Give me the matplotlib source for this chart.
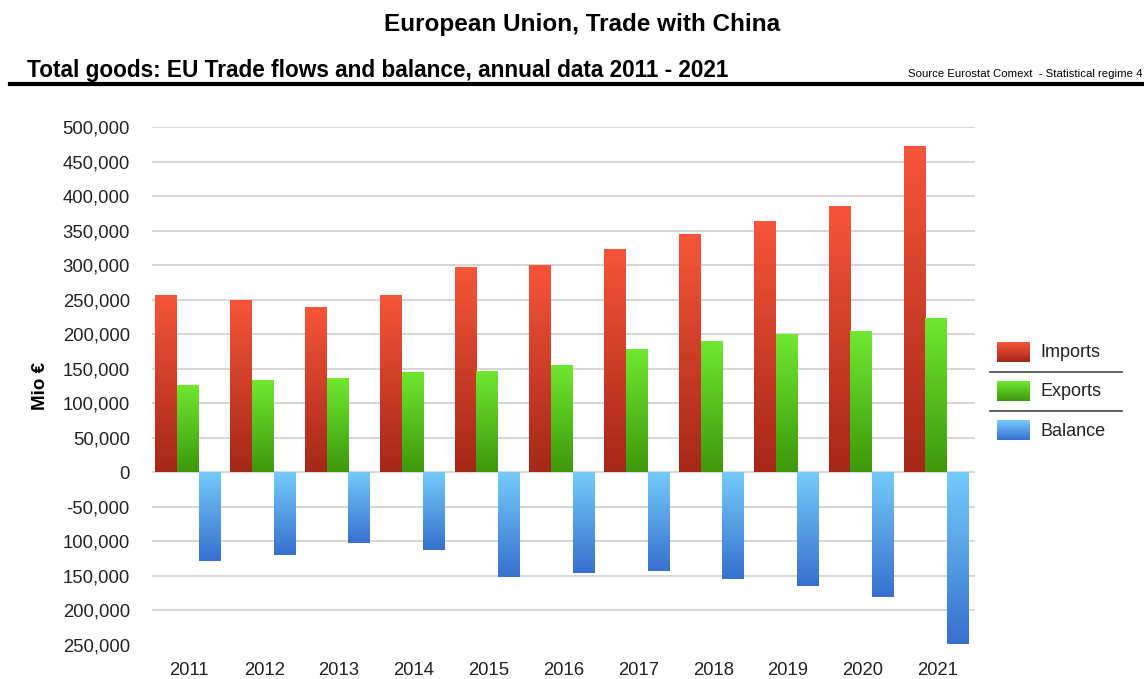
import numpy as np
import matplotlib
matplotlib.use('Agg')
import matplotlib.pyplot as plt
import matplotlib.patches as patches
from matplotlib.colors import LinearSegmentedColormap
from matplotlib.ticker import FuncFormatter

plt.rcParams['font.family'] = ['Liberation Sans', 'DejaVu Sans']

years = ['2011', '2012', '2013', '2014', '2015', '2016', '2017', '2018', '2019', '2020', '2021']
imports = [257000, 250000, 240000, 257000, 298000, 300000, 324000, 345000, 364000, 386000, 473000]
exports = [127000, 133000, 136000, 145000, 146000, 155000, 178000, 190000, 200000, 204000, 223000]
balance = [-129000, -119000, -103000, -112000, -151000, -146000, -143000, -155000, -165000, -181000, -248000]

series = ['Imports', 'Exports', 'Balance']
# light end / dark end of each bar gradient
grad = {'Imports': ('#f6553a', '#a52717'),
        'Exports': ('#6fe830', '#3e980c'),
        'Balance': ('#74cbf9', '#3870cf')}

yticks = np.arange(-250000, 500001, 50000)
W, H = 1144, 679

fig = plt.figure(figsize=(W / 100, H / 100), dpi=100)
ax = fig.add_axes([152 / W, 1 - 645 / H, 823 / W, (645 - 127) / H])

x = np.arange(len(years))
bw = 0.29
for k, (name, vals) in enumerate(zip(series, [imports, exports, balance])):
    bars = ax.bar(x + (k - 1) * bw - 0.02, vals, bw, color=grad[name][1], linewidth=0, zorder=2)
    cmap = LinearSegmentedColormap.from_list(name, [grad[name][1], grad[name][0]])
    for b in bars:
        x0, y0 = b.get_x(), b.get_y()
        x1, y1 = x0 + b.get_width(), y0 + b.get_height()
        g = np.linspace(0, 1, 64).reshape(-1, 1)
        im = ax.imshow(g, cmap=cmap, aspect='auto', origin='lower',
                       extent=(x0, x1, min(y0, y1), max(y0, y1)), zorder=3)
        im.set_clip_path(b)

ax.set_xlim(-0.5, len(years) - 0.5)
ax.set_ylim(-250000, 500000)

# grid lines (none at the bottom value)
ax.hlines(yticks[1:], -0.5, len(years) - 0.5, colors='#cfcfcf', lw=1.2, zorder=1)

ax.set_yticks(yticks)
ax.yaxis.set_major_formatter(FuncFormatter(
    lambda v, p: '-50,000' if v == -50000 else '{:,.0f}'.format(abs(v))))
ax.set_xticks(x)
ax.set_xticklabels(years)
ax.tick_params(length=0, labelsize=13.3, colors='#222222')
ax.tick_params(axis='y', pad=16)
ax.tick_params(axis='x', pad=12)
for s in ax.spines.values():
    s.set_visible(False)
ax.set_ylabel('Mio €', fontsize=13.5, fontweight='bold', labelpad=10)

# titles
fig.text(582 / W, 1 - 25 / H, 'European Union, Trade with China', ha='center', va='center',
         fontsize=17.5, fontweight='bold')
fig.text(27 / W, 1 - 70 / H, 'Total goods: EU Trade flows and balance, annual data 2011 - 2021',
         ha='left', va='center', fontsize=16.3, fontweight='bold')
fig.text(1142 / W, 1 - 74 / H, 'Source Eurostat Comext  - Statistical regime 4',
         ha='right', va='center', fontsize=8.2)
fig.add_artist(plt.Line2D([10 / W, 1], [1 - 84 / H, 1 - 84 / H], color='black', lw=3))

# legend
lax = fig.add_axes([985 / W, 1 - 450 / H, 145 / W, 120 / H])
lax.axis('off')
for k, name in enumerate(series):
    top = 342 + k * 39
    cmap = LinearSegmentedColormap.from_list(name, [grad[name][1], grad[name][0]])
    r = patches.Rectangle((997, top), 33, 20, lw=0, facecolor=grad[name][1], zorder=1)
    lax.add_patch(r)
    im = lax.imshow(np.linspace(0, 1, 32).reshape(-1, 1), cmap=cmap, aspect='auto',
                    origin='lower', extent=(997, 1030, top + 20, top), zorder=2)
    im.set_clip_path(r)
    lax.text(1040, top + 11, name, ha='left', va='center', fontsize=13, color='#222222')
    if k < 2:
        lax.plot([990, 1122], [top + 30, top + 30], color='#444444', lw=1.2)
lax.set_xlim(985, 1130)
lax.set_ylim(450, 330)

fig.savefig('out.png', dpi=100)
